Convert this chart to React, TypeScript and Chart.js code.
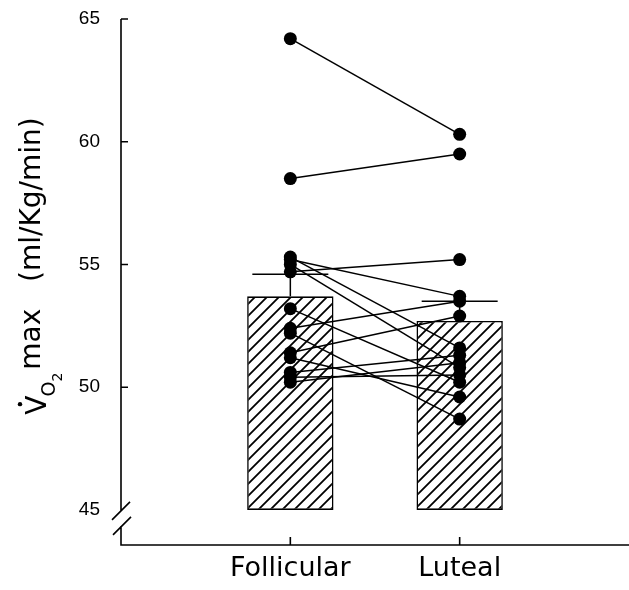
import React, { useEffect, useRef } from "react";
import { Chart, registerables } from "chart.js";

Chart.register(...registerables);

const categories = ["Follicular", "Luteal"];
const meanValues = [53.7, 52.7];
const seTopValues = [54.6, 53.5];
const follicular = [64.2, 58.5, 55.3, 55.2, 55.0, 54.7, 53.2, 52.4, 52.2, 51.4, 51.2, 50.6, 50.4, 50.2];
const luteal = [60.3, 59.5, 51.6, 53.7, 50.8, 55.2, 50.2, 53.5, 48.7, 52.9, 49.6, 51.3, 50.5, 51.0];
const yTicks = [45, 50, 55, 60, 65];
const yBase = 45;
const yMin = 43.57;
const yMax = 65;

function makeHatch(): CanvasPattern | string {
  const s = 12;
  const c = document.createElement("canvas");
  c.width = s;
  c.height = s;
  const g = c.getContext("2d");
  if (!g) return "#fff";
  g.fillStyle = "#fff";
  g.fillRect(0, 0, s, s);
  g.strokeStyle = "#000";
  g.lineWidth = 1.8;
  g.beginPath();
  g.moveTo(0, s);
  g.lineTo(s, 0);
  g.moveTo(-2, 2);
  g.lineTo(2, -2);
  g.moveTo(s - 2, s + 2);
  g.lineTo(s + 2, s - 2);
  g.stroke();
  return g.createPattern(c, "repeat") || "#fff";
}

const decorPlugin = {
  id: "decor",
  afterDatasetsDraw(chart: any) {
    const { ctx, scales } = chart;
    const y = scales.y;
    const meta = chart.getDatasetMeta(0);
    ctx.save();
    ctx.strokeStyle = "#000";
    ctx.lineWidth = 1.5;
    meanValues.forEach((m, i) => {
      const bar = meta.data[i + 1];
      if (!bar) return;
      const half = bar.width * 0.44;
      const yt = y.getPixelForValue(seTopValues[i]);
      const ym = y.getPixelForValue(m);
      ctx.beginPath();
      ctx.moveTo(bar.x, ym);
      ctx.lineTo(bar.x, yt);
      ctx.moveTo(bar.x - half, yt);
      ctx.lineTo(bar.x + half, yt);
      ctx.stroke();
    });
    ctx.restore();
  },
  afterDraw(chart: any) {
    const { ctx, chartArea, scales } = chart;
    const x = scales.x;
    const y = scales.y;
    const left = chartArea.left;
    const bottom = chartArea.bottom;
    const yb = y.getPixelForValue(yBase);
    ctx.save();
    ctx.strokeStyle = "#000";
    ctx.lineWidth = 1.6;
    ctx.beginPath();
    ctx.moveTo(left, y.getPixelForValue(yMax));
    ctx.lineTo(left, yb + 1);
    ctx.moveTo(left, yb + 16);
    ctx.lineTo(left, bottom);
    ctx.lineTo(chartArea.right, bottom);
    // break marks
    ctx.moveTo(left - 9, yb + 10);
    ctx.lineTo(left + 9, yb - 8);
    ctx.moveTo(left - 8, yb + 25);
    ctx.lineTo(left + 10, yb + 7);
    // y ticks (inward)
    yTicks.forEach((v) => {
      const p = y.getPixelForValue(v);
      if (v === yBase) return;
      ctx.moveTo(left, p);
      ctx.lineTo(left + 7, p);
    });
    // x ticks (upward)
    categories.forEach((_, i) => {
      const px = x.getPixelForValue(i + 1);
      ctx.moveTo(px, bottom);
      ctx.lineTo(px, bottom - 8);
    });
    ctx.stroke();

    // y axis title
    const cx = 40;
    const cy = 266;
    ctx.translate(cx, cy);
    ctx.rotate(-Math.PI / 2);
    ctx.fillStyle = "#000";
    ctx.textBaseline = "alphabetic";
    ctx.textAlign = "left";
    const big = "28px 'DejaVu Sans'";
    const sub = "19px 'DejaVu Sans'";
    const sub2 = "14px 'DejaVu Sans'";
    const rest = "max   (ml/Kg/min)";
    ctx.font = big;
    const wV = ctx.measureText("V").width;
    const wRest = ctx.measureText(rest).width;
    ctx.font = sub;
    const wO = ctx.measureText("O").width;
    ctx.font = sub2;
    const w2 = ctx.measureText("2").width;
    const total = wV + wO + w2 + 2 + wRest;
    let tx = -total / 2;
    ctx.font = big;
    ctx.fillText("V", tx, 6);
    ctx.beginPath();
    ctx.arc(tx + wV / 2 + 1, 6 - 26, 2.2, 0, Math.PI * 2);
    ctx.fill();
    tx += wV - 1;
    ctx.font = sub;
    ctx.fillText("O", tx, 15);
    tx += wO;
    ctx.font = sub2;
    ctx.fillText("2", tx, 22);
    tx += w2 + 3;
    ctx.font = big;
    ctx.fillText(rest, tx, 0);
    ctx.restore();
  },
};

export default function App() {
  const ref = useRef<HTMLCanvasElement | null>(null);
  useEffect(() => {
    if (!ref.current) return;
    const hatch = makeHatch();
    const labels = ["", ...categories, ""];
    const pairDatasets = follicular.map((f, i) => ({
      type: "line" as const,
      data: [null, f, luteal[i], null],
      borderColor: "#000",
      borderWidth: 1.5,
      pointRadius: 6.5,
      pointBackgroundColor: "#000",
      pointBorderWidth: 0,
      spanGaps: false,
      order: 1,
    }));
    const chart = new Chart(ref.current, {
      type: "bar",
      data: {
        labels,
        datasets: [
          {
            type: "bar" as const,
            data: [null, ...meanValues.map((m) => [yBase, m]), null] as any,
            backgroundColor: hatch as any,
            borderColor: "#000",
            borderWidth: 1.6,
            borderSkipped: false,
            barPercentage: 0.51,
            categoryPercentage: 1,
            order: 2,
          },
          ...pairDatasets,
        ] as any,
      },
      options: {
        animation: false,
        responsive: false,
        maintainAspectRatio: false,
        layout: { autoPadding: false, padding: { top: 19, right: 0, left: 0, bottom: 0 } },
        plugins: { legend: { display: false }, tooltip: { enabled: false } },
        scales: {
          x: {
            type: "category",
            offset: false,
            grid: { display: false, drawTicks: false },
            border: { display: false },
            ticks: {
              color: "#000",
              font: { family: "'DejaVu Sans'", size: 27 },
              padding: 8,
              autoSkip: false,
              maxRotation: 0,
            },
            afterFit: (s: any) => {
              s.height = 45;
              s.paddingLeft = 0;
              s.paddingRight = 0;
            },
          },
          y: {
            min: yMin,
            max: yMax,
            grid: { display: false, drawTicks: false },
            border: { display: false },
            afterBuildTicks: (s: any) => {
              s.ticks = yTicks.map((v) => ({ value: v }));
            },
            ticks: {
              color: "#000",
              font: { family: "'Liberation Sans'", size: 19 },
              padding: 21,
            },
            afterFit: (s: any) => {
              s.width = 121;
              s.paddingTop = 0;
              s.paddingBottom = 0;
            },
          },
        },
      },
      plugins: [decorPlugin],
    });
    return () => chart.destroy();
  }, []);
  return (
    <div style={{ position: "fixed", left: 0, top: 0, width: 629, height: 590, background: "#fff" }}>
      <canvas ref={ref} width={629} height={590} style={{ display: "block" }} />
    </div>
  );
}
